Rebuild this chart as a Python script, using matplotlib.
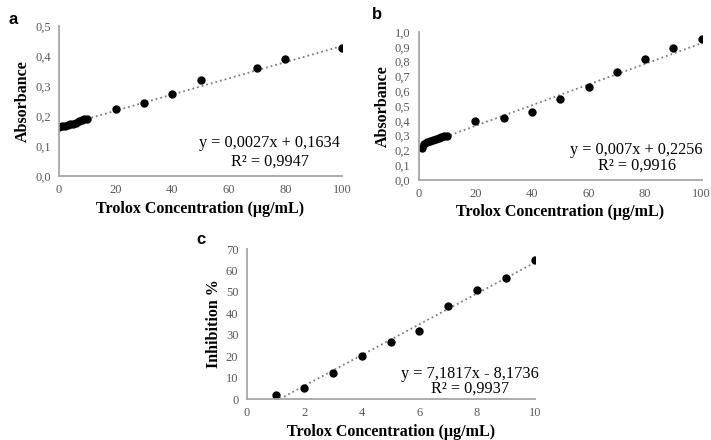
import matplotlib.pyplot as plt

# panel a - DPPH? absorbance vs trolox
conc_a = [0, 1, 2, 3, 4, 5, 6, 7, 8, 9, 10, 20, 30, 40, 50, 70, 80, 100]
abs_a = [0.164, 0.166, 0.168, 0.170, 0.172, 0.173, 0.178, 0.183, 0.187, 0.189, 0.190,
         0.222, 0.244, 0.272, 0.319, 0.359, 0.391, 0.426]

# panel b
conc_b = [1, 2, 3, 4, 5, 6, 7, 8, 9, 10, 20, 30, 40, 50, 60, 70, 80, 90, 100]
abs_b = [0.215, 0.245, 0.258, 0.265, 0.270, 0.276, 0.285, 0.292, 0.297, 0.296,
         0.402, 0.418, 0.462, 0.550, 0.628, 0.728, 0.815, 0.893, 0.955]

# panel c
conc_c = [1, 2, 3, 4, 5, 6, 7, 8, 9, 10]
inhib_c = [1.8, 5.2, 12.1, 20.2, 26.7, 31.9, 43.3, 51.0, 56.4, 65.1]

# trendline coefficients (slope, intercept) as printed on the chart
fit_a = (0.0027, 0.1634)
fit_b = (0.007, 0.2256)
fit_c = (7.1817, -8.1736)

serif = "Liberation Serif"
tick_col = "#595959"
spine_col = "#a6a6a6"

fig = plt.figure(figsize=(7.11, 4.40), dpi=100)


def style(ax):
    for s in ["top", "right"]:
        ax.spines[s].set_visible(False)
    for s in ["left", "bottom"]:
        ax.spines[s].set_color(spine_col)
        ax.spines[s].set_linewidth(1.3)
    ax.tick_params(length=0, labelsize=9, colors=tick_col, pad=6)
    for lab in ax.get_xticklabels() + ax.get_yticklabels():
        lab.set_fontfamily(serif)


def trend(ax, x0, x1, fit):
    m, c = fit
    ax.plot([x0, x1], [m * x0 + c, m * x1 + c], ls=":", color="#7f7f7f", lw=1.3, zorder=1)


def comma(v, nd):
    return f"{v:.{nd}f}".replace(".", ",")


# ---- a ----
ax1 = fig.add_axes([0.083, 0.600, 0.398, 0.341])
trend(ax1, 0, 100, fit_a)
ax1.plot(conc_a, abs_a, "o", color="black", ms=5, zorder=2)
ax1.set_xlim(0, 100)
ax1.set_ylim(0, 0.5)
ax1.set_xticks([0, 20, 40, 60, 80, 100])
ax1.set_yticks([0, 0.1, 0.2, 0.3, 0.4, 0.5])
ax1.set_yticklabels([comma(v, 1) for v in ax1.get_yticks()])
style(ax1)
ax1.set_xlabel("Trolox Concentration (µg/mL)", fontfamily=serif, fontsize=11.5,
               fontweight="bold", labelpad=3)
ax1.set_ylabel("Absorbance", fontfamily=serif, fontsize=11.5, fontweight="bold", labelpad=3)
ax1.text(74.5, 0.11, "y = 0,0027x + 0,1634", ha="center", va="center",
         fontfamily=serif, fontsize=11.7)
ax1.text(74.5, 0.047, "R² = 0,9947", ha="center", va="center", fontfamily=serif, fontsize=11.7)
fig.text(0.018, 0.955, "a", fontsize=12, fontweight="bold", fontfamily="Liberation Sans",
         ha="center", va="center")

# ---- b ----
ax2 = fig.add_axes([0.589, 0.591, 0.398, 0.336])
trend(ax2, 0, 100, fit_b)
ax2.plot(conc_b, abs_b, "o", color="black", ms=5, zorder=2)
ax2.set_xlim(0, 100)
ax2.set_ylim(0, 1.0)
ax2.set_xticks([0, 20, 40, 60, 80, 100])
ax2.set_yticks([i / 10 for i in range(11)])
ax2.set_yticklabels([comma(v, 1) for v in ax2.get_yticks()])
style(ax2)
ax2.set_xlabel("Trolox Concentration (µg/mL)", fontfamily=serif, fontsize=11.5,
               fontweight="bold", labelpad=3)
ax2.set_ylabel("Absorbance", fontfamily=serif, fontsize=11.5, fontweight="bold", labelpad=3)
ax2.text(77, 0.203, "y = 0,007x + 0,2256", ha="center", va="center",
         fontfamily=serif, fontsize=11.7)
ax2.text(77, 0.095, "R² = 0,9916", ha="center", va="center", fontfamily=serif, fontsize=11.7)
fig.text(0.530, 0.966, "b", fontsize=12, fontweight="bold", fontfamily="Liberation Sans",
         ha="center", va="center")

# ---- c ----
ax3 = fig.add_axes([0.347, 0.093, 0.405, 0.341])
trend(ax3, 1, 10, fit_c)
ax3.plot(conc_c, inhib_c, "o", color="black", ms=5, zorder=2)
ax3.set_xlim(0, 10)
ax3.set_ylim(0, 70)
ax3.set_xticks([0, 2, 4, 6, 8, 10])
ax3.set_yticks([0, 10, 20, 30, 40, 50, 60, 70])
style(ax3)
ax3.set_xlabel("Trolox Concentration (µg/mL)", fontfamily=serif, fontsize=11.5,
               fontweight="bold", labelpad=3)
ax3.set_ylabel("Inhibition %", fontfamily=serif, fontsize=11.5, fontweight="bold", labelpad=3)
ax3.text(7.74, 11.7, "y = 7,1817x - 8,1736", ha="center", va="center",
         fontfamily=serif, fontsize=11.7)
ax3.text(7.74, 4.7, "R² = 0,9937", ha="center", va="center", fontfamily=serif, fontsize=11.7)
fig.text(0.283, 0.455, "c", fontsize=12, fontweight="bold", fontfamily="Liberation Sans",
         ha="center", va="center")

fig.savefig("out.png", dpi=100)
